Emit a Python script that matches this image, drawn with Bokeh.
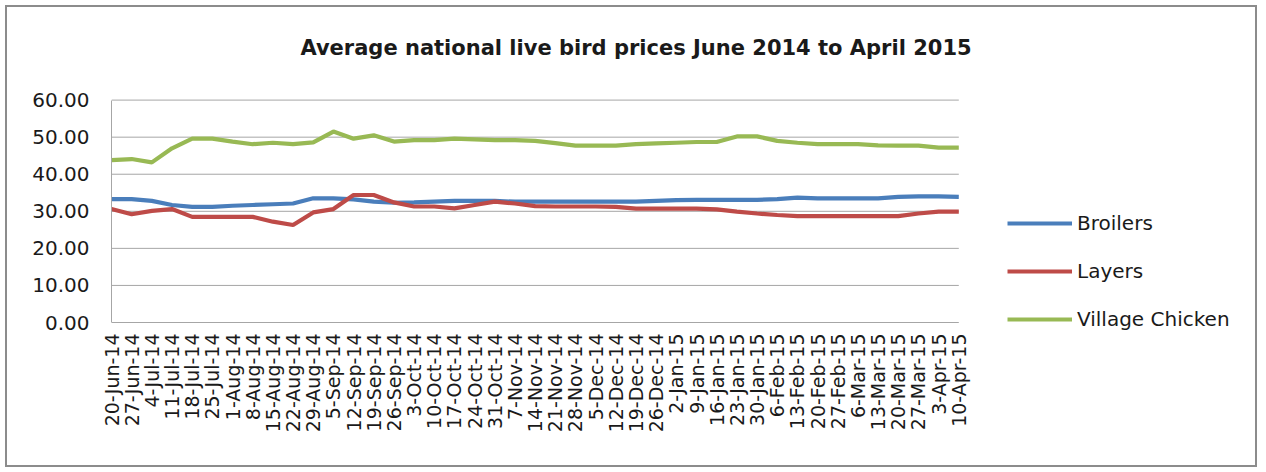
import math
from bokeh.plotting import figure
from bokeh.models import Range1d, FixedTicker, PrintfTickFormatter, Label, Legend, LegendItem
from bokeh.embed import file_html
from bokeh.resources import INLINE

dates = ["20-Jun-14", "27-Jun-14", "4-Jul-14", "11-Jul-14", "18-Jul-14", "25-Jul-14",
         "1-Aug-14", "8-Aug-14", "15-Aug-14", "22-Aug-14", "29-Aug-14", "5-Sep-14",
         "12-Sep-14", "19-Sep-14", "26-Sep-14", "3-Oct-14", "10-Oct-14", "17-Oct-14",
         "24-Oct-14", "31-Oct-14", "7-Nov-14", "14-Nov-14", "21-Nov-14", "28-Nov-14",
         "5-Dec-14", "12-Dec-14", "19-Dec-14", "26-Dec-14", "2-Jan-15", "9-Jan-15",
         "16-Jan-15", "23-Jan-15", "30-Jan-15", "6-Feb-15", "13-Feb-15", "20-Feb-15",
         "27-Feb-15", "6-Mar-15", "13-Mar-15", "20-Mar-15", "27-Mar-15", "3-Apr-15",
         "10-Apr-15"]

broilers = [33.3, 33.3, 32.8, 31.7, 31.2, 31.2, 31.5, 31.7, 31.9, 32.1, 33.5, 33.5,
            33.2, 32.6, 32.3, 32.4, 32.6, 32.8, 32.8, 32.8, 32.6, 32.6, 32.6, 32.6,
            32.6, 32.6, 32.6, 32.8, 33.0, 33.1, 33.1, 33.1, 33.1, 33.3, 33.7, 33.5,
            33.5, 33.5, 33.5, 33.9, 34.0, 34.0, 33.9]

layers = [30.6, 29.2, 30.1, 30.6, 28.5, 28.5, 28.5, 28.5, 27.2, 26.3, 29.7, 30.6,
          34.4, 34.4, 32.4, 31.3, 31.3, 30.8, 31.7, 32.6, 32.1, 31.4, 31.3, 31.3,
          31.3, 31.2, 30.7, 30.7, 30.7, 30.7, 30.5, 29.9, 29.4, 29.0, 28.7, 28.7,
          28.7, 28.7, 28.7, 28.7, 29.4, 29.9, 29.9]

village = [43.8, 44.1, 43.2, 47.0, 49.6, 49.6, 48.8, 48.1, 48.5, 48.1, 48.6, 51.5,
           49.6, 50.5, 48.8, 49.2, 49.2, 49.6, 49.4, 49.2, 49.2, 49.0, 48.4, 47.7,
           47.7, 47.7, 48.1, 48.3, 48.5, 48.7, 48.7, 50.2, 50.2, 49.0, 48.5, 48.1,
           48.1, 48.1, 47.8, 47.7, 47.7, 47.2, 47.2]

y_ticks = [0, 10, 20, 30, 40, 50, 60]
series_names = ["Broilers", "Layers", "Village Chicken"]
colors = ["#4A7EBB", "#BE4B48", "#98B954"]
chart_title = "Average national live bird prices June 2014 to April 2015"

FONT = "DejaVu Sans"
TEXT = "#1a1a1a"
GRID = "#a6a6a6"

# ---- layout (pixels) ----
W, H = 1252, 462
B_LEFT, B_RIGHT, B_TOP, B_BOTTOM = 104, 10, 10, 137
PLOT_W = 847.3            # width of the data area (first to last week)
PLOT_H = 222.4            # height of the data area (0 to 60)
GAP_BELOW = 10            # gap between the zero line and the date labels
frame_w = W - B_LEFT - B_RIGHT
frame_h = H - B_TOP - B_BOTTOM
n = len(dates)
x_end = (n - 1) * frame_w / PLOT_W
units_per_px = y_ticks[-1] / PLOT_H
y_start = -GAP_BELOW * units_per_px
y_end = y_start + frame_h * units_per_px

p = figure(width=W, height=H, output_backend="svg", toolbar_location=None,
           x_range=Range1d(0, x_end), y_range=Range1d(y_start, y_end),
           min_border_left=B_LEFT, min_border_right=B_RIGHT, min_border_top=B_TOP,
           min_border_bottom=B_BOTTOM)
p.styles = {"border": "2px solid #8c8c8c", "margin": "5px 0 0 5px"}
p.outline_line_color = None
p.background_fill_color = "white"
p.border_fill_color = "white"

xs = list(range(n))

# horizontal grid lines, only across the data area
p.segment(x0=[0] * len(y_ticks), x1=[n - 1] * len(y_ticks), y0=y_ticks, y1=y_ticks,
          line_color=GRID, line_width=1)

renderers = []
for vals, c in zip([broilers, layers, village], colors):
    r = p.line(xs, vals, line_color=c, line_width=4.2)
    renderers.append(r)

# axes
p.xaxis.ticker = FixedTicker(ticks=xs)
p.xaxis.major_label_overrides = {i: d for i, d in enumerate(dates)}
p.xaxis.major_label_orientation = math.pi / 2
p.xaxis.major_label_text_font = FONT
p.xaxis.major_label_text_font_size = "19px"
p.xaxis.major_label_text_color = TEXT
p.xaxis.major_label_standoff = 1
p.xaxis.major_tick_out = 0
p.xaxis.major_tick_in = 0
p.xaxis.major_tick_line_color = None
p.xaxis.minor_tick_line_color = None
p.xaxis.axis_line_color = None

p.yaxis.ticker = FixedTicker(ticks=y_ticks)
p.yaxis.bounds = (y_ticks[0], y_ticks[-1])
p.yaxis.formatter = PrintfTickFormatter(format="%.2f")
p.yaxis.major_label_text_font = FONT
p.yaxis.major_label_text_font_size = "20px"
p.yaxis.major_label_text_color = TEXT
p.yaxis.major_label_standoff = 22
p.yaxis.major_tick_out = 0
p.yaxis.major_tick_in = 0
p.yaxis.major_tick_line_color = None
p.yaxis.minor_tick_line_color = None
p.yaxis.axis_line_color = GRID

p.xgrid.grid_line_color = None
p.ygrid.grid_line_color = None

# title, centred over the whole chart
title = Label(x=524.5, y=285, x_units="screen", y_units="screen",
              text=chart_title, text_font=FONT, text_font_style="bold",
              text_font_size="21px", text_color=TEXT,
              text_align="center", text_baseline="middle")
p.add_layout(title)

legend = Legend(items=[LegendItem(label=s, renderers=[r]) for s, r in zip(series_names, renderers)],
                location=(896, 1), orientation="vertical",
                glyph_width=65, glyph_height=24, label_height=24, spacing=24,
                label_standoff=5, padding=0, margin=0,
                label_text_font=FONT, label_text_font_size="20px", label_text_color=TEXT,
                border_line_alpha=0, background_fill_alpha=0)
p.add_layout(legend, "center")

open("out.html", "w").write(file_html(p, INLINE))
